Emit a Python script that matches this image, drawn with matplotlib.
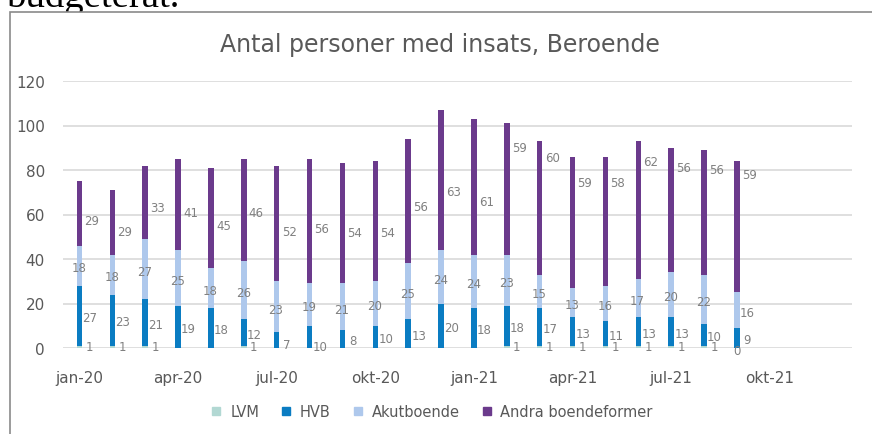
import matplotlib.pyplot as plt
import numpy as np
from matplotlib.patches import Rectangle
from matplotlib.lines import Line2D

months = ['jan-20', 'feb-20', 'mar-20', 'apr-20', 'maj-20', 'jun-20', 'jul-20', 'aug-20',
          'sep-20', 'okt-20', 'nov-20', 'dec-20', 'jan-21', 'feb-21', 'mar-21', 'apr-21',
          'maj-21', 'jun-21', 'jul-21', 'aug-21', 'sep-21', 'okt-21', 'nov-21', 'dec-21']
lvm = [1, 1, 1, None, None, 1, None, None, None, None, None, None, None,
       1, 1, 1, 1, 1, 1, 1, 0, None, None, None]
hvb = [27, 23, 21, 19, 18, 12, 7, 10, 8, 10, 13, 20, 18,
       18, 17, 13, 11, 13, 13, 10, 9, None, None, None]
akut = [18, 18, 27, 25, 18, 26, 23, 19, 21, 20, 25, 24, 24,
        23, 15, 13, 16, 17, 20, 22, 16, None, None, None]
andra = [29, 29, 33, 41, 45, 46, 52, 56, 54, 54, 56, 63, 61,
         59, 60, 59, 58, 62, 56, 56, 59, None, None, None]

# label placement (as moved by hand in the original chart): x offset in bar units,
# y offset from the segment centre in value units
n = len(months)
lvm_dx = [0.3] * n
lvm_dx[20] = 0.0
lvm_dy = [0.0] * n
lvm_dy[20] = -1.2
hvb_dx = [0.32] * n
hvb_dy = [-0.8] * n
hvb_dy[6] = -2.0
hvb_dy[7] = -4.5
akut_dx = [-0.02] * n
akut_dx[20] = 0.32
akut_dy = [-1.0] * n
andra_dx = [0.38] * n
andra_dy = [-3, -4, -2.5, -3.5, -3.5, -1, -3.5, -3.5, -4.3, -5, -2.2, -5, -6.5,
            18.5, 22.4, 18, 17.6, 22, 19.3, 19.4, 23.5, 0, 0, 0]

series = [('LVM', lvm, '#b2d8d3', lvm_dx, lvm_dy),
          ('HVB', hvb, '#0a7cc2', hvb_dx, hvb_dy),
          ('Akutboende', akut, '#aec8ec', akut_dx, akut_dy),
          ('Andra boendeformer', andra, '#6b3a8c', andra_dx, andra_dy)]

plt.rcParams['font.family'] = ['DejaVu Sans']
fig = plt.figure(figsize=(8.72, 4.35), dpi=100)

# text above the chart (cut off) and the chart frame
fig.text(7 / 872, 1 - 7 / 435, 'budgeterat.', fontsize=28, family='Liberation Serif',
         va='baseline', ha='left', color='black')
fig.patches.append(Rectangle((10 / 872, -0.1), 1.2, 1 - 13 / 435 + 0.1, transform=fig.transFigure,
                             facecolor='white', edgecolor='#8a8a8a', linewidth=1.2, zorder=5))

ax = fig.add_axes([63 / 872, 1 - 349 / 435, 789 / 872, 267 / 435], zorder=6)
ax.patch.set_alpha(0)
x = np.arange(n)
bottom = np.zeros(n)
label_color = '#808080'
for name, vals, color, dxs, dys in series:
    v = np.array([np.nan if a is None else a for a in vals], dtype=float)
    ax.bar(x, np.nan_to_num(v), width=0.17, bottom=bottom, color=color, label=name, zorder=3)
    for i in range(n):
        if not np.isnan(v[i]):
            ax.text(x[i] + dxs[i], bottom[i] + v[i] / 2 + dys[i], f'{int(v[i])}', ha='center',
                    va='center', fontsize=8.5, color=label_color, zorder=4)
    bottom = bottom + np.nan_to_num(v)

ax.set_xlim(-0.5, n - 0.5)
ax.set_ylim(0, 120)
ax.set_yticks(range(0, 121, 20))
ax.set_xticks(x[::3])
ax.set_xticklabels(months[::3])
ax.tick_params(axis='both', length=0, labelsize=11, labelcolor='#595959')
ax.tick_params(axis='x', pad=16)
ax.tick_params(axis='y', pad=13)
ax.grid(axis='y', color='#d9d9d9', linewidth=1.2, zorder=0)
for s in ax.spines.values():
    s.set_visible(False)

fig.text(440 / 872, 1 - 45 / 435, 'Antal personer med insats, Beroende', ha='center', va='center',
         fontsize=17, color='#595959', zorder=7)

handles = [Line2D([], [], marker='s', linestyle='none', markersize=6, color=c, label=nm)
           for nm, _, c, _, _ in series]
leg = fig.legend(handles=handles, loc='center', bbox_to_anchor=(431 / 872, 1 - 413 / 435), ncol=4,
                 frameon=False, fontsize=10.5, handlelength=1.0, handletextpad=0.45,
                 columnspacing=1.35, labelcolor='#595959')
leg.set_zorder(7)

fig.savefig('out.png', dpi=100)
